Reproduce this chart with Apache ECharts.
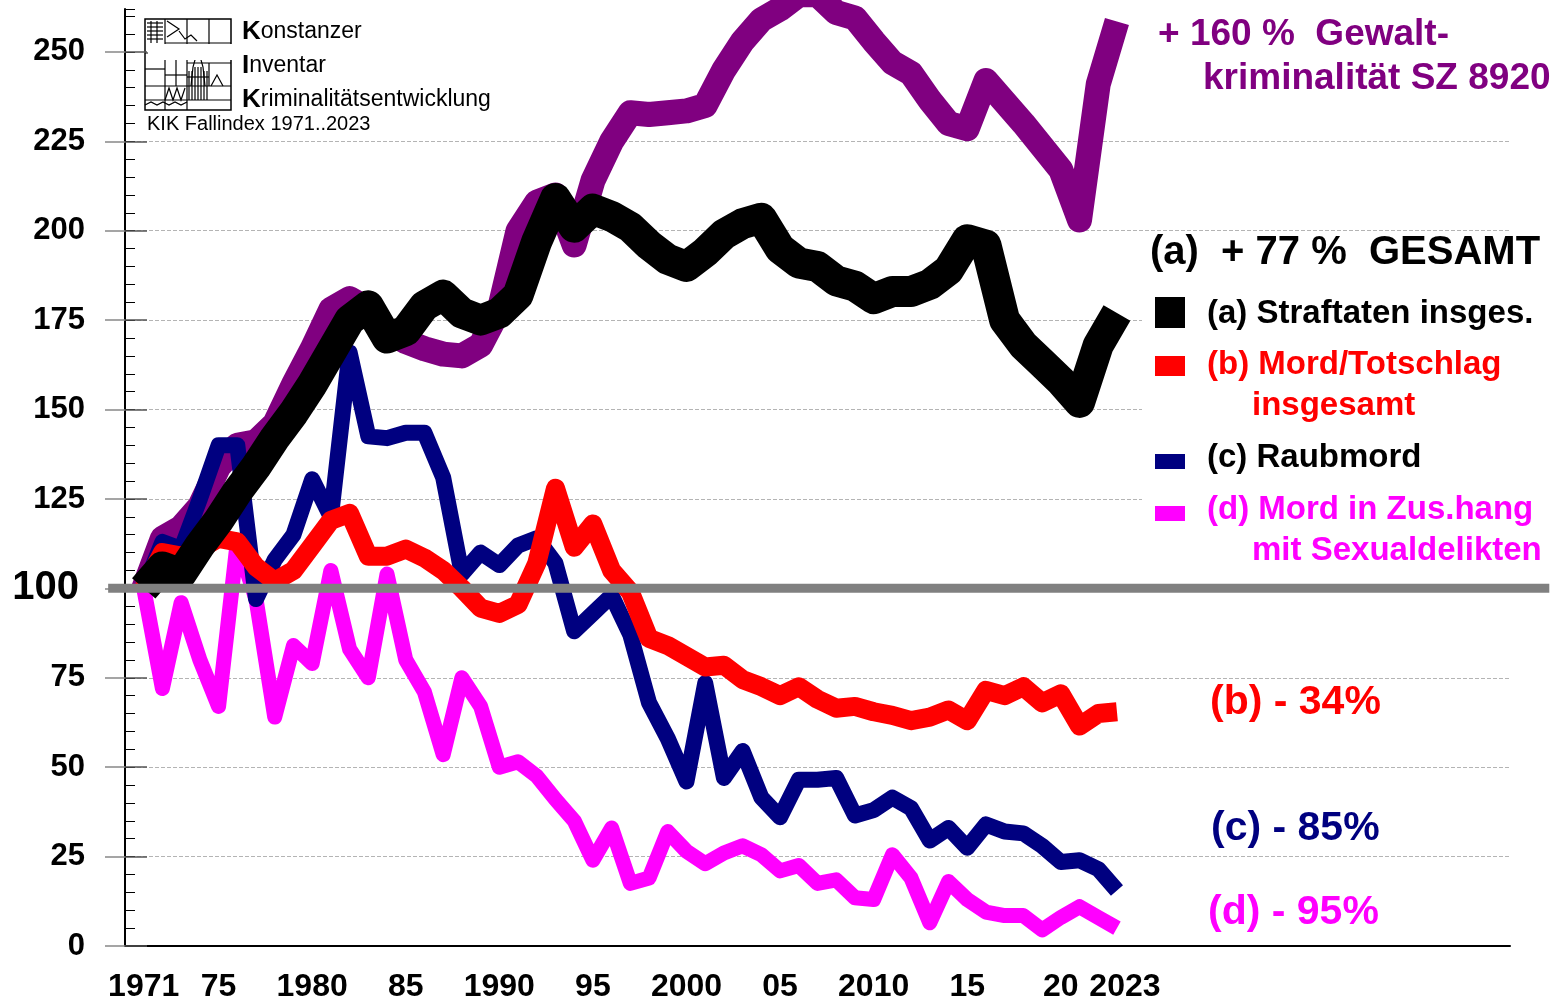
<!DOCTYPE html>
<html>
<head>
<meta charset="utf-8">
<script src="https://cdn.jsdelivr.net/npm/echarts@6/dist/echarts.min.js"></script>
<style>
    html, body { margin: 0; padding: 0; background: #fff; }
    #chart { width: 1567px; height: 1003px; }
</style>
</head>
<body>
<div id="chart"></div>
<script>
// KIK Fallindex 1971..2023, Index 1971 = 100
const years = [1971, 1972, 1973, 1974, 1975, 1976, 1977, 1978, 1979, 1980,
    1981, 1982, 1983, 1984, 1985, 1986, 1987, 1988, 1989, 1990,
    1991, 1992, 1993, 1994, 1995, 1996, 1997, 1998, 1999, 2000,
    2001, 2002, 2003, 2004, 2005, 2006, 2007, 2008, 2009, 2010,
    2011, 2012, 2013, 2014, 2015, 2016, 2017, 2018, 2019, 2020,
    2021, 2022, 2023];

// (a) Straftaten insgesamt
const gesamt = [100, 106, 104, 112, 119, 127, 134, 142, 149, 157,
    166, 175, 179, 170, 172, 179, 182, 177, 175, 177,
    182, 197, 209, 201, 206, 204, 201, 196, 192, 190,
    194, 199, 202, 203.5, 195, 191, 190, 186, 184.5, 181,
    183, 183, 185, 189, 197.5, 196, 175, 168, 163, 158,
    152, 168, 177];

// Gewaltkriminalitaet SZ 8920
const gewalt = [100, 114, 117, 123, 134, 140, 141, 146, 157, 167,
    178, 181, 178, 172, 169, 167, 165.5, 165, 168, 178,
    200, 208, 210, 196, 214, 225, 233, 232.5, 233, 233.5,
    235, 245, 253, 259, 262, 266, 266, 261, 259.5, 253,
    247, 244, 236.5, 230, 228.5, 242, 236, 230, 223.5, 217,
    203, 241, 258.5];

// (b) Mord/Totschlag insgesamt
const mordTotschlag = [100, 110, 109, 111, 114, 113, 106, 102, 105, 112,
    119, 121, 109, 109, 111, 108.5, 105, 100, 94.5, 93,
    95.5, 107, 128, 111.5, 118, 105, 99, 86, 84, 81,
    78, 78.5, 74.5, 72.5, 70, 72.5, 69, 66.5, 67, 65.5,
    64.5, 63, 64, 66, 63, 71.5, 70, 72.5, 68, 70.5,
    61.5, 65, 65.5];

// (c) Raubmord
const raubmord = [100, 113, 111, 125, 140, 140, 97, 108, 115, 130.5,
    120, 166, 142.5, 142, 143.5, 143.5, 131, 104, 110, 106.5,
    112, 114, 107, 88, 93, 98, 87, 68, 58, 46,
    73.5, 47, 54.5, 41.5, 36, 46.5, 46.5, 47, 36.5, 38,
    41.5, 38.5, 29.5, 33, 27.5, 34, 32, 31.5, 28, 23.5,
    24, 21.5, 15.5];

// (d) Mord in Zus.hang mit Sexualdelikten
const sexualmord = [100, 72, 96, 80, 67, 113, 97, 64, 84, 79,
    105, 83, 75, 104, 80, 71, 53.5, 75, 67, 50,
    51.5, 47.5, 41, 35, 24, 33, 17.5, 19, 32, 26.5,
    23, 26, 28, 25.5, 21, 22.5, 17.5, 18.5, 13.5, 13,
    25.5, 19, 6.5, 18, 13, 9.5, 8.5, 8.5, 4.5, 8,
    11, 8, 5];

const xTickLabels = {
    1971: '1971', 1975: '75', 1980: '1980', 1985: '85', 1990: '1990', 1995: '95',
    2000: '2000', 2005: '05', 2010: '2010', 2015: '15', 2020: '20', 2023: '2023'
};
const yTickValues = [0, 25, 50, 75, 100, 125, 150, 175, 200, 225, 250];
const baseIndex = 100;
// the grey 100 line runs a little past both ends of the x axis
const baseLineYears = [1969.1, 2046.1];

const FONT = '"Liberation Sans", Arial, sans-serif';

function pairs(values) {
    return years.map(function (y, i) { return [y, values[i]]; });
}

function lineSeries(name, values, color, width) {
    return {
        name: name,
        type: 'line',
        data: pairs(values),
        symbol: 'none',
        clip: false,
        silent: true,
        lineStyle: { color: color, width: width, cap: 'butt', join: 'round' },
        itemStyle: { color: color }
    };
}

function label(text, x, y, color, size, weight) {
    return {
        type: 'text', x: x, y: y, z: 20,
        style: {
            text: text, fill: color, verticalAlign: 'middle',
            font: (weight || 'bold') + ' ' + size + 'px ' + FONT
        }
    };
}

function swatch(x, y, w, h, color) {
    return { type: 'rect', z: 20, shape: { x: x, y: y, width: w, height: h }, style: { fill: color } };
}

function cover(x, y, w, h) {
    return { type: 'rect', z: 1, shape: { x: x, y: y, width: w, height: h }, style: { fill: '#fff' } };
}

function ln(x1, y1, x2, y2) {
    return { type: 'line', shape: { x1: x1, y1: y1, x2: x2, y2: y2 }, style: { stroke: '#000', lineWidth: 1.2 } };
}

function pl(points) {
    return { type: 'polyline', shape: { points: points }, style: { stroke: '#000', lineWidth: 1.2, fill: null } };
}

// little KIK logo (grid with cathedral tower)
const logo = {
    type: 'group', x: 145, y: 19, z: 20,
    children: [
        { type: 'rect', shape: { x: 0, y: 0, width: 86, height: 91 }, style: { fill: '#fff', stroke: '#000', lineWidth: 1.5 } },
        ln(20, 0, 20, 91), ln(42, 0, 42, 91), ln(64, 0, 64, 34), ln(0, 34, 86, 34),
        ln(20, 24, 86, 24), ln(0, 67, 86, 67), ln(0, 81, 86, 81), ln(31, 34, 31, 67),
        ln(42, 44, 86, 44), ln(64, 44, 64, 67), ln(0, 50, 20, 50), ln(20, 56, 42, 56),
        ln(2, 4, 18, 4), ln(2, 8, 18, 8), ln(2, 12, 18, 12), ln(2, 16, 18, 16), ln(2, 20, 18, 20),
        ln(6, 2, 6, 24), ln(12, 2, 12, 24),
        pl([[22, 2], [34, 10], [22, 18]]),
        pl([[34, 12], [40, 20], [46, 16], [52, 22]]),
        pl([[30, 26], [42, 32], [54, 26], [60, 32], [66, 26], [72, 32], [78, 26]]),
        pl([[46, 67], [48, 48], [53, 30], [58, 48], [60, 67]]),
        ln(44, 52, 44, 81), ln(47, 52, 47, 81), ln(50, 48, 50, 81), ln(53, 48, 53, 81),
        ln(56, 48, 56, 81), ln(59, 52, 59, 81), ln(62, 52, 62, 81), ln(42, 58, 64, 58),
        pl([[66, 67], [72, 56], [78, 67]]),
        pl([[20, 81], [24, 69], [28, 81], [32, 69], [36, 81], [40, 69]]),
        pl([[0, 86], [6, 83], [12, 86], [18, 83], [24, 86], [30, 83], [36, 86], [42, 83]])
    ]
};

function logoLine(first, rest, y) {
    return {
        type: 'text', x: 242, y: y, z: 20,
        style: {
            text: '{k|' + first + '}{r|' + rest + '}', verticalAlign: 'middle',
            rich: {
                k: { font: 'bold 26px ' + FONT, fill: '#000' },
                r: { font: '23px ' + FONT, fill: '#000' }
            }
        }
    };
}

const chart = echarts.init(document.getElementById('chart'));

const option = {
    animation: false,
    backgroundColor: '#ffffff',
    grid: { left: 125, right: 57, top: 9, bottom: 55 },
    xAxis: {
        type: 'value',
        min: 1970,
        max: 2044,
        interval: 1,
        axisLine: { onZero: false, lineStyle: { color: '#000', width: 2 } },
        axisTick: { show: false },
        splitLine: { show: false },
        axisLabel: {
            margin: 25,
            color: '#000',
            fontFamily: FONT,
            fontWeight: 'bold',
            fontSize: 32,
            formatter: function (v) {
                const t = xTickLabels[v];
                if (!t) return '';
                return v === 2023 ? '{r|' + t + '}' : t;
            },
            rich: {
                r: { fontFamily: FONT, fontWeight: 'bold', fontSize: 32, color: '#000', padding: [0, 0, 0, 16] }
            }
        }
    },
    yAxis: [
        {
            // axis line + minor ticks, used by the series
            type: 'value', position: 'left', min: 0, max: 262, interval: 5,
            axisLine: { show: true, lineStyle: { color: '#000', width: 2 } },
            axisTick: { show: true, inside: true, length: 10, lineStyle: { color: '#000', width: 1 } },
            axisLabel: { show: false },
            splitLine: { show: false }
        },
        {
            // labels, outer ticks, dashed grid
            type: 'value', position: 'left', min: 0, max: 262, interval: 25,
            axisLine: { show: false },
            axisTick: { show: true, length: 20, customValues: yTickValues, lineStyle: { color: '#888', width: 1.5 } },
            axisLabel: {
                margin: 40,
                color: '#000',
                fontFamily: FONT,
                fontWeight: 'bold',
                fontSize: 31,
                formatter: function (v) {
                    if (v === baseIndex) return '{big|100}';
                    return (v % 25 === 0 && v <= 250) ? String(v) : '';
                },
                rich: {
                    big: { fontFamily: FONT, fontWeight: 'bold', fontSize: 40, color: '#000', padding: [0, 6, 0, 0] }
                }
            },
            splitLine: {
                show: true, showMaxLine: false,
                lineStyle: { color: '#b4b4b4', type: 'dashed', width: 1 }
            }
        },
        {
            // inner part of the major ticks
            type: 'value', position: 'left', min: 0, max: 262, interval: 25,
            axisLine: { show: false },
            axisTick: { show: true, inside: true, length: 22, customValues: yTickValues, lineStyle: { color: '#555', width: 1.5 } },
            axisLabel: { show: false },
            splitLine: { show: false }
        }
    ],
    series: [
        lineSeries('Gewaltkriminalität SZ 8920', gewalt, '#800080', 25),
        lineSeries('(d) Mord in Zus.hang mit Sexualdelikten', sexualmord, '#ff00ff', 15),
        lineSeries('(c) Raubmord', raubmord, '#000080', 16),
        lineSeries('(b) Mord/Totschlag insgesamt', mordTotschlag, '#ff0000', 19),
        lineSeries('(a) Straftaten insges.', gesamt, '#000000', 31)
    ],
    graphic: [
        // boxes that hide parts of the grid lines as in the original
        cover(148, 44, 436, 16),
        cover(1156, 44, 360, 16),
        cover(1142, 280, 372, 290),
        logo,
        logoLine('K', 'onstanzer', 32),
        logoLine('I', 'nventar', 66),
        logoLine('K', 'riminalitätsentwicklung', 100),
        label('KIK Fallindex 1971..2023', 147, 124, '#000', 20, 'normal'),
        label('+ 160 %  Gewalt-', 1158, 35, '#800080', 37),
        label('kriminalität SZ 8920', 1203, 79, '#800080', 37),
        label('(a)  + 77 %  GESAMT', 1150, 253, '#000', 40),
        swatch(1155, 297, 30, 31, '#000000'),
        label('(a) Straftaten insges.', 1207, 314, '#000', 33),
        swatch(1155, 356, 30, 20, '#ff0000'),
        label('(b) Mord/Totschlag', 1207, 365, '#ff0000', 33),
        label('insgesamt', 1252, 406, '#ff0000', 33),
        swatch(1155, 454, 30, 15, '#000080'),
        label('(c) Raubmord', 1207, 458, '#000', 33),
        swatch(1155, 506, 30, 15, '#ff00ff'),
        label('(d) Mord in Zus.hang', 1207, 510, '#ff00ff', 33),
        label('mit Sexualdelikten', 1252, 551, '#ff00ff', 33),
        label('(b) - 34%', 1210, 703, '#ff0000', 41),
        label('(c) - 85%', 1211, 829, '#000080', 41),
        label('(d) - 95%', 1208, 913, '#ff00ff', 41)
    ]
};

chart.setOption(option);

// grey 100 line, placed through the chart's own scales, drawn over the curves
const y100 = chart.convertToPixel({ yAxisIndex: 0 }, baseIndex);
const xFrom = chart.convertToPixel({ xAxisIndex: 0 }, baseLineYears[0]);
const xTo = chart.convertToPixel({ xAxisIndex: 0 }, baseLineYears[1]);
chart.setOption({
    graphic: option.graphic.concat([{
        type: 'line', z: 15, silent: true,
        shape: { x1: xFrom, y1: y100, x2: xTo, y2: y100 },
        style: { stroke: '#808080', lineWidth: 9 }
    }])
});

window.addEventListener('resize', function () {
    chart.resize();
});
</script>
</body>
</html>
